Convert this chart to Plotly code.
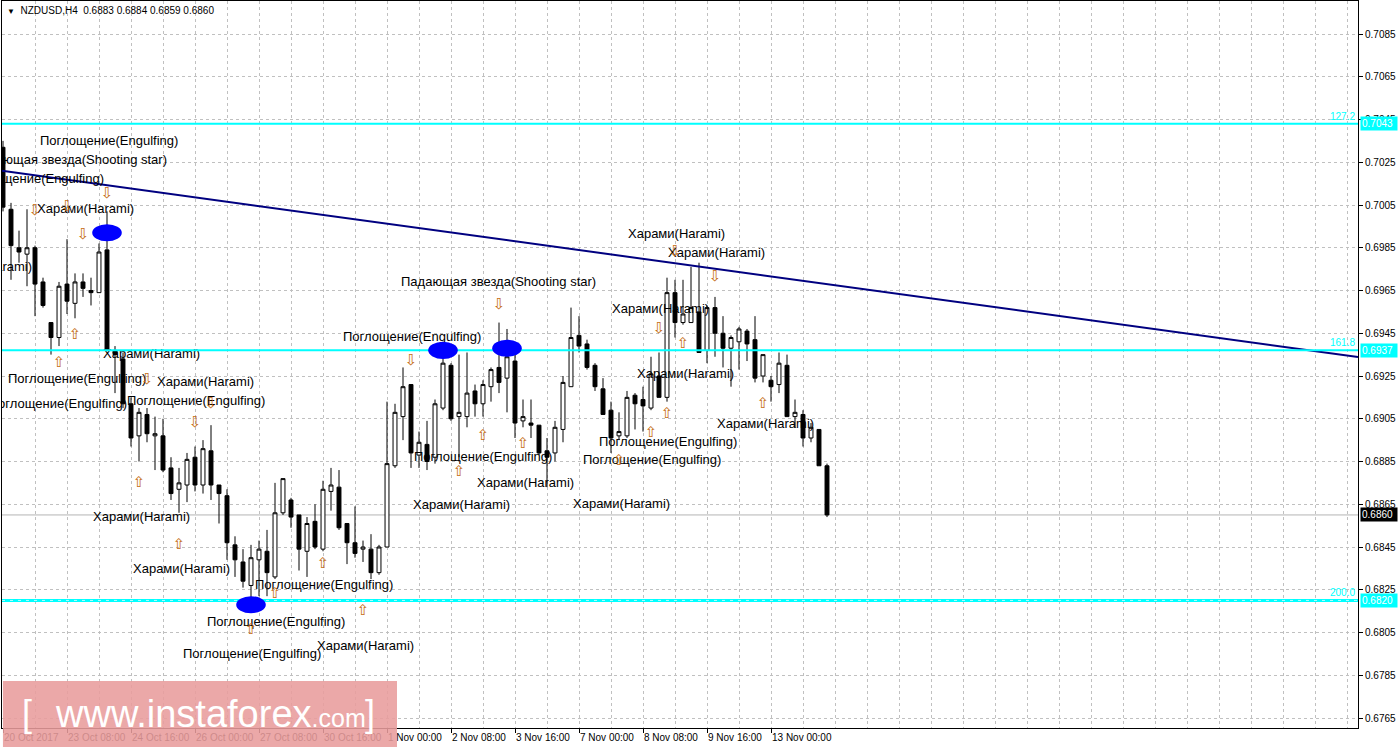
import plotly.graph_objects as go

# ---------------- data ----------------
symbol = "NZDUSD,H4"
tick_labels = ["20 Oct 2017", "23 Oct 08:00", "24 Oct 16:00", "26 Oct 00:00", "27 Oct 08:00",
               "30 Oct 16:00", "1 Nov 00:00", "2 Nov 08:00", "3 Nov 16:00", "7 Nov 00:00",
               "8 Nov 08:00", "9 Nov 16:00", "13 Nov 00:00"]
price_ticks = [0.6765, 0.6785, 0.6805, 0.6825, 0.6845, 0.6865, 0.6885, 0.6905, 0.6925,
               0.6945, 0.6965, 0.6985, 0.7005, 0.7025, 0.7045, 0.7065, 0.7085]

bar_open = [0.7032, 0.7003, 0.6985, 0.6982, 0.6985, 0.6969, 0.6950, 0.6943, 0.6968, 0.6959,
            0.6969, 0.6965, 0.6964, 0.6984, 0.6937, 0.6933, 0.6912, 0.6897, 0.6907, 0.6897,
            0.6897, 0.6882, 0.6872, 0.6874, 0.6887, 0.6874, 0.6890, 0.6874, 0.6869, 0.6846,
            0.6838, 0.6827, 0.6839, 0.6843, 0.6831, 0.6861, 0.6867, 0.6860, 0.6843, 0.6857,
            0.6844, 0.6871, 0.6873, 0.6856, 0.6847, 0.6844, 0.6844, 0.6833, 0.6845, 0.6883,
            0.6906, 0.6921, 0.6888, 0.6893, 0.6887, 0.6910, 0.6930, 0.6906, 0.6906, 0.6918,
            0.6912, 0.6920, 0.6929, 0.6924, 0.6932, 0.6904, 0.6903, 0.6902, 0.6890, 0.6889,
            0.6900, 0.6920, 0.6944, 0.6940, 0.6930, 0.6919, 0.6909, 0.6897, 0.6897, 0.6916,
            0.6914, 0.6910, 0.6925, 0.6915, 0.6964, 0.6950, 0.6950, 0.6955, 0.6937, 0.6957,
            0.6945, 0.6938, 0.6941, 0.6946, 0.6942, 0.6925, 0.6923, 0.6921, 0.6930, 0.6906,
            0.6907, 0.6896, 0.6900, 0.6883]
bar_high = [0.7035, 0.7006, 0.6993, 0.7003, 0.6986, 0.6971, 0.6950, 0.6969, 0.6989, 0.6973,
            0.6973, 0.6971, 0.6987, 0.7002, 0.6939, 0.6936, 0.6915, 0.6910, 0.6910, 0.6906,
            0.6905, 0.6887, 0.6882, 0.6889, 0.6892, 0.6895, 0.6902, 0.6874, 0.6872, 0.6850,
            0.6844, 0.6846, 0.6848, 0.6853, 0.6875, 0.6877, 0.6868, 0.6860, 0.6859, 0.6865,
            0.6876, 0.6882, 0.6881, 0.6856, 0.6864, 0.6848, 0.6851, 0.6846, 0.6913, 0.6912,
            0.6929, 0.6921, 0.6899, 0.6904, 0.6914, 0.6941, 0.6931, 0.6935, 0.6936, 0.6921,
            0.6923, 0.6929, 0.6950, 0.6947, 0.6941, 0.6914, 0.6914, 0.6902, 0.6896, 0.6904,
            0.6925, 0.6957, 0.6953, 0.6942, 0.6931, 0.6924, 0.6913, 0.6908, 0.6918, 0.6917,
            0.6920, 0.6934, 0.6936, 0.6971, 0.6970, 0.6970, 0.6976, 0.6978, 0.6958, 0.6962,
            0.6953, 0.6944, 0.6948, 0.6947, 0.6953, 0.6935, 0.6925, 0.6936, 0.6935, 0.6914,
            0.6909, 0.6903, 0.6900, 0.6884]
bar_low = [0.7002, 0.6970, 0.6978, 0.6967, 0.6953, 0.6957, 0.6935, 0.6939, 0.6954, 0.6952,
           0.6962, 0.6958, 0.6964, 0.6937, 0.6917, 0.6910, 0.6892, 0.6885, 0.6894, 0.6881,
           0.6880, 0.6867, 0.6861, 0.6866, 0.6871, 0.6870, 0.6867, 0.6856, 0.6839, 0.6831,
           0.6826, 0.6817, 0.6822, 0.6822, 0.6830, 0.6860, 0.6854, 0.6834, 0.6831, 0.6844,
           0.6843, 0.6862, 0.6853, 0.6837, 0.6840, 0.6838, 0.6830, 0.6832, 0.6845, 0.6882,
           0.6895, 0.6882, 0.6882, 0.6881, 0.6884, 0.6909, 0.6904, 0.6887, 0.6901, 0.6906,
           0.6906, 0.6913, 0.6917, 0.6908, 0.6896, 0.6901, 0.6896, 0.6888, 0.6873, 0.6885,
           0.6894, 0.6920, 0.6936, 0.6928, 0.6918, 0.6907, 0.6889, 0.6895, 0.6896, 0.6900,
           0.6899, 0.6909, 0.6915, 0.6913, 0.6943, 0.6949, 0.6950, 0.6936, 0.6931, 0.6934,
           0.6929, 0.6920, 0.6928, 0.6932, 0.6922, 0.6922, 0.6913, 0.6917, 0.6906, 0.6901,
           0.6892, 0.6894, 0.6883, 0.6859]
bar_close = [0.7004, 0.6986, 0.6983, 0.6985, 0.6968, 0.6958, 0.6943, 0.6967, 0.6960, 0.6969,
             0.6966, 0.6964, 0.6983, 0.6937, 0.6935, 0.6912, 0.6896, 0.6908, 0.6898, 0.6898,
             0.6881, 0.6870, 0.6875, 0.6886, 0.6874, 0.6891, 0.6874, 0.6870, 0.6847, 0.6839,
             0.6829, 0.6840, 0.6844, 0.6833, 0.6861, 0.6877, 0.6859, 0.6844, 0.6856, 0.6845,
             0.6872, 0.6874, 0.6854, 0.6847, 0.6842, 0.6845, 0.6833, 0.6845, 0.6884, 0.6908,
             0.6920, 0.6889, 0.6894, 0.6885, 0.6912, 0.6931, 0.6905, 0.6908, 0.6917, 0.6912,
             0.6921, 0.6928, 0.6922, 0.6934, 0.6903, 0.6906, 0.6902, 0.6889, 0.6887, 0.6901,
             0.6922, 0.6943, 0.6939, 0.6929, 0.6920, 0.6907, 0.6896, 0.6899, 0.6915, 0.6912,
             0.6911, 0.6926, 0.6915, 0.6964, 0.6950, 0.6954, 0.6957, 0.6936, 0.6957, 0.6945,
             0.6938, 0.6943, 0.6947, 0.6940, 0.6924, 0.6935, 0.6920, 0.6931, 0.6906, 0.6908,
             0.6896, 0.6901, 0.6883, 0.6860]

# Fibonacci-type levels
level_prices = [0.7043, 0.6937, 0.6820]
level_names = ["127.2", "161.8", "200.0"]

# trend line (bar index, price)
trend_x = [-0.125, 169.375]
trend_y = [0.70210, 0.69339]

# blue ellipse markers (bar index, price)
ellipse_bar = [13, 31, 55, 63]
ellipse_price = [0.6992, 0.6818, 0.6937, 0.6938]

# pattern arrows
down_bar = [13, 4, 8, 10, 18, 26, 24, 51, 62, 82, 89, 84]
down_price = [0.7010, 0.7002, 0.7004, 0.6991, 0.6923, 0.6912, 0.6903, 0.6932, 0.6958, 0.6947, 0.6971, 0.6983]
up_bar = [9, 7, 17, 22, 34, 31, 45, 40, 60, 57, 65, 85, 83, 81, 77, 95]
up_price = [0.6944, 0.6931, 0.6875, 0.6846, 0.6823, 0.6806, 0.6815, 0.6837, 0.6897, 0.6880, 0.6893,
            0.6940, 0.6907, 0.6898, 0.6885, 0.6912]

ENG = "Поглощение(Engulfing)"
HAR = "Харами(Harami)"
SHS = "Падающая звезда(Shooting star)"
label_x = [4.625, 20.5, 12.625, 4.25, 3.625, 12.5, 0.625, 19.25, 15.5, 15.5, 11.25, 16.25, 31.5,
           25.5, 22.5, 39.25, 42.5, 49.75, 51.375, 59.25, 51.25, 71.25, 72.5, 74.5, 79.25,
           76.125, 78.125, 83.125, 89.25]
label_y = [0.70345, 0.70256, 0.70167, 0.70027, 0.69755, 0.69348, 0.69231, 0.69217, 0.69114,
           0.69128, 0.68586, 0.68342, 0.68268, 0.68094, 0.67945, 0.67982, 0.69428, 0.69685,
           0.68866, 0.68745, 0.68642, 0.68646, 0.68852, 0.68936, 0.69255, 0.69559, 0.69910,
           0.69821, 0.69021]
label_text = [ENG, SHS, ENG, HAR, HAR, HAR, ENG, HAR, ENG, ENG, HAR, HAR, ENG, ENG, ENG, HAR,
              ENG, SHS, ENG, HAR, HAR, HAR, ENG, ENG, HAR, HAR, HAR, HAR, HAR]
label_side = ["R", "L", "L", "R", "L", "R", "R", "R", "L", "R", "R", "R", "R", "R", "R", "R",
              "R", "R", "R", "R", "R", "R", "R", "R", "R", "R", "R", "R", "R"]

# ---------------- figure ----------------
bars = list(range(len(bar_close)))
tick_bars = bars[::8][:len(tick_labels)]
FONT = "Liberation Sans, Arial, sans-serif"
GRID = "#C0C0C0"
CYAN = "#00FFFF"

fig = go.Figure()
fig.add_trace(go.Candlestick(
    x=bars, open=bar_open, high=bar_high, low=bar_low, close=bar_close,
    increasing=dict(line=dict(color="black", width=1), fillcolor="white"),
    decreasing=dict(line=dict(color="black", width=1), fillcolor="black"),
    whiskerwidth=0, hoverinfo="skip", showlegend=False))

fig.add_trace(go.Scatter(x=trend_x, y=trend_y, mode="lines",
                         line=dict(color="#000080", width=2), hoverinfo="skip"))

fig.add_trace(go.Scatter(
    x=label_x, y=label_y, text=label_text, mode="text",
    textposition=["middle right" if s == "R" else "middle left" for s in label_side],
    textfont=dict(family=FONT, size=13, color="black"), hoverinfo="skip"))

ARROW_COL = "#C46A10"
fig.add_trace(go.Scatter(x=down_bar, y=down_price, text=["⇩"] * len(down_bar), mode="text",
                         textposition="middle center",
                         textfont=dict(family="DejaVu Sans", size=15, color=ARROW_COL),
                         hoverinfo="skip"))
fig.add_trace(go.Scatter(x=up_bar, y=up_price, text=["⇧"] * len(up_bar), mode="text",
                         textposition="middle center",
                         textfont=dict(family="DejaVu Sans", size=15, color=ARROW_COL),
                         hoverinfo="skip"))

shapes = []
# current bid line
shapes.append(dict(type="line", xref="paper", x0=0, x1=1, yref="y", y0=bar_close[-1], y1=bar_close[-1],
                   line=dict(color="#B4B4B4", width=1), layer="below"))
for i, lv in enumerate(level_prices):
    shapes.append(dict(type="line", xref="paper", x0=0, x1=1, yref="y", y0=lv, y1=lv,
                       line=dict(color=CYAN, width=3 if i == 2 else 2), layer="above"))
shapes.append(dict(type="line", xref="paper", x0=0, x1=1, yref="y", y0=level_prices[2], y1=level_prices[2],
                   line=dict(color="white", width=1, dash="3px,5px"), opacity=0.7, layer="above"))
for b, p in zip(ellipse_bar, ellipse_price):
    shapes.append(dict(type="circle", xref="x", yref="y", x0=b - 1.85, x1=b + 1.85,
                       y0=p - 0.0004, y1=p + 0.0004, fillcolor="#0000FF",
                       line=dict(width=0), layer="above"))
# watermark box
shapes.append(dict(type="rect", xref="paper", yref="paper", x0=0.0007, x1=0.2913, y0=-0.0261, y1=0.0646,
                   fillcolor="rgb(232,156,156)", opacity=0.88, line=dict(width=0), layer="above"))

annotations = []
o, h, l, c = bar_open[-1], bar_high[-1], bar_low[-1], bar_close[-1]
annotations.append(dict(xref="paper", yref="paper", x=0, y=1, xanchor="left", yanchor="top",
                        xshift=3, yshift=-2, showarrow=False,
                        text=f"<span style='font-size:8px'>▼</span>  {symbol}  {o:.4f} {h:.4f} {l:.4f} {c:.4f}",
                        font=dict(family=FONT, size=10, color="black")))
for lv, nm in zip(level_prices, level_names):
    annotations.append(dict(xref="paper", yref="y", x=1, y=lv, xanchor="right", yanchor="bottom",
                            xshift=-1, yshift=0, showarrow=False, text=nm,
                            font=dict(family=FONT, size=10, color=CYAN)))
    annotations.append(dict(xref="paper", yref="y", x=1, y=lv, xanchor="left", yanchor="middle",
                            xshift=2, showarrow=False, text=f"{lv:.4f}", bgcolor=CYAN, borderpad=1,
                            width=34, align="left",
                            font=dict(family=FONT, size=10, color="white")))
annotations.append(dict(xref="paper", yref="y", x=1, y=c, xanchor="left", yanchor="middle",
                        xshift=2, showarrow=False, text=f"{c:.4f}", bgcolor="black", borderpad=1,
                        width=34, align="left",
                        font=dict(family=FONT, size=10, color="white")))
# watermark text
annotations.append(dict(xref="paper", yref="paper", x=0.0376, y=0.0193, xanchor="left", yanchor="middle",
                        showarrow=False,
                        text="www.instaforex<span style='font-size:25px'>.com</span>",
                        font=dict(family=FONT, size=38, color="white")))
annotations.append(dict(xref="paper", yref="paper", x=0.0185, y=0.0193, xanchor="center", yanchor="middle",
                        showarrow=False, text="[", font=dict(family=FONT, size=36, color="white")))
annotations.append(dict(xref="paper", yref="paper", x=0.2717, y=0.0193, xanchor="center", yanchor="middle",
                        showarrow=False, text="]", font=dict(family=FONT, size=36, color="white")))

fig.update_layout(
    template="none",
    width=1398, height=750, margin=dict(l=2, r=40, t=1, b=22, autoexpand=False),
    paper_bgcolor="white", plot_bgcolor="white", showlegend=False,
    shapes=shapes, annotations=annotations,
    xaxis=dict(range=[-0.125, 169.375], tickmode="array", tickvals=tick_bars, ticktext=tick_labels,
               ticks="outside", ticklen=4, tickcolor="black", ticklabelposition="outside right",
               tickangle=0, automargin=False,
               tickfont=dict(family=FONT, size=10, color="black"),
               showgrid=True, gridcolor=GRID, griddash="3px,3px", gridwidth=1,
               minor=dict(tick0=0, dtick=4, showgrid=True, gridcolor=GRID, griddash="3px,3px", ticks=""),
               showline=True, linecolor="black", linewidth=1, mirror=True, zeroline=False,
               rangeslider=dict(visible=False), fixedrange=True),
    yaxis=dict(side="right", range=[0.676032, 0.710044], tickmode="array", tickvals=price_ticks,
               ticktext=[f"{v:.4f}" for v in price_ticks], ticks="outside", ticklen=4, tickcolor="black",
               automargin=False,
               tickfont=dict(family=FONT, size=10, color="black"),
               showgrid=True, gridcolor=GRID, griddash="3px,3px", gridwidth=1,
               showline=True, linecolor="black", linewidth=1, mirror=True, zeroline=False,
               fixedrange=True),
)

fig.write_html("out.html",
               config={"displayModeBar": False, "staticPlot": True},
               post_script="document.body.style.margin='0px';document.body.style.padding='0px';"
                           "document.body.style.overflow='hidden';")
